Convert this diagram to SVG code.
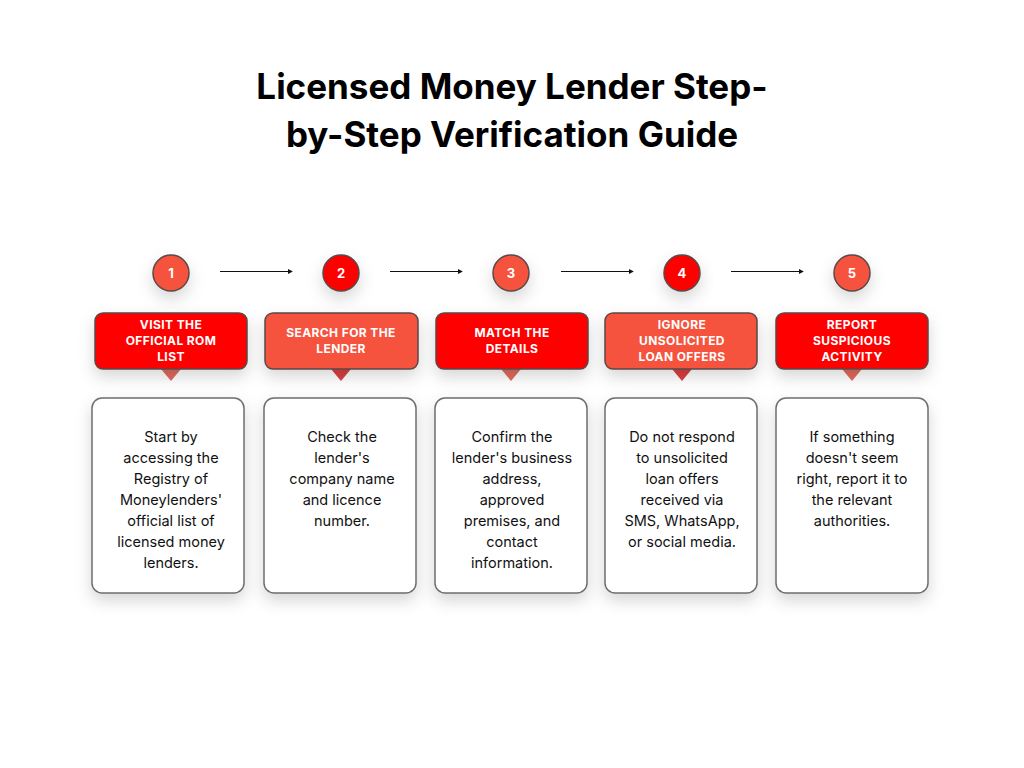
<svg xmlns="http://www.w3.org/2000/svg" width="1024" height="768" viewBox="0 0 1024 768">
<defs>
<style>
.title{font-family:Inter,"Noto Sans","Liberation Sans",sans-serif;font-weight:700;font-size:35px;fill:#000;text-anchor:middle}
.num{font-family:Inter,"Liberation Sans",sans-serif;font-weight:700;font-size:13px;fill:#fff;text-anchor:middle}
.lbl{font-family:Inter,"Liberation Sans",sans-serif;font-weight:700;font-size:12px;fill:#fff;text-anchor:middle;letter-spacing:0.4px}
.body{font-family:Inter,"Liberation Sans",sans-serif;font-size:14.5px;fill:#111;text-anchor:middle}
.circ{stroke:#5b4848;stroke-width:1.5}
.tag{stroke:#5b4848;stroke-width:1.5}
.card{fill:#fff;stroke:#6e6e6e;stroke-width:1.5}
.red{fill:#ff0000}
.coral{fill:#f5533d}
.conn{stroke:#111;stroke-width:1.2;fill:none}
</style>
<filter id="sh" x="-40%" y="-40%" width="180%" height="190%">
<feDropShadow dx="0" dy="7" stdDeviation="8" flood-color="#000" flood-opacity="0.16"/>
</filter>
<marker id="ah" viewBox="0 0 6 6" refX="5" refY="3" markerWidth="5" markerHeight="5" orient="auto" markerUnits="userSpaceOnUse">
<path d="M0,0 L6,3 L0,6 z" fill="#111"/>
</marker>
</defs>
<rect width="1024" height="768" fill="#fff"/>
<text class="title" x="512" y="99">Licensed Money Lender Step-</text>
<text class="title" x="512" y="147">by-Step Verification Guide</text>

<g id="connectors">
<line class="conn" x1="220" y1="271.5" x2="292" y2="271.5" marker-end="url(#ah)"/>
<line class="conn" x1="390" y1="271.5" x2="462" y2="271.5" marker-end="url(#ah)"/>
<line class="conn" x1="561" y1="271.5" x2="633" y2="271.5" marker-end="url(#ah)"/>
<line class="conn" x1="731" y1="271.5" x2="803" y2="271.5" marker-end="url(#ah)"/>
</g>

<g id="step1">
<circle class="circ coral" cx="171" cy="273" r="18" filter="url(#sh)"/>
<text class="num" x="171" y="277.5">1</text>
<polygon points="161,369 181,369 171,381" fill="#e06a5c"/>
<rect class="tag red" x="95" y="313" width="152" height="56" rx="8" filter="url(#sh)"/>
<text class="lbl" x="171" y="329">VISIT THE</text>
<text class="lbl" x="171" y="345">OFFICIAL ROM</text>
<text class="lbl" x="171" y="361">LIST</text>
<rect class="card" x="92" y="398" width="152" height="195" rx="10" filter="url(#sh)"/>
<text class="body" x="171" y="442">Start by</text>
<text class="body" x="171" y="463">accessing the</text>
<text class="body" x="171" y="484">Registry of</text>
<text class="body" x="171" y="505">Moneylenders'</text>
<text class="body" x="171" y="526">official list of</text>
<text class="body" x="171" y="547">licensed money</text>
<text class="body" x="171" y="568">lenders.</text>
</g>

<g id="step2">
<circle class="circ red" cx="341" cy="273" r="18" filter="url(#sh)"/>
<text class="num" x="341" y="277.5">2</text>
<polygon points="331,369 351,369 341,381" fill="#d9403f"/>
<rect class="tag coral" x="265" y="313" width="153" height="56" rx="8" filter="url(#sh)"/>
<text class="lbl" x="341" y="337">SEARCH FOR THE</text>
<text class="lbl" x="341" y="353">LENDER</text>
<rect class="card" x="264" y="398" width="152" height="195" rx="10" filter="url(#sh)"/>
<text class="body" x="342" y="442">Check the</text>
<text class="body" x="342" y="463">lender's</text>
<text class="body" x="342" y="484">company name</text>
<text class="body" x="342" y="505">and licence</text>
<text class="body" x="342" y="526">number.</text>
</g>

<g id="step3">
<circle class="circ coral" cx="511" cy="273" r="18" filter="url(#sh)"/>
<text class="num" x="511" y="277.5">3</text>
<polygon points="501,369 521,369 511,381" fill="#e06a5c"/>
<rect class="tag red" x="436" y="313" width="152" height="56" rx="8" filter="url(#sh)"/>
<text class="lbl" x="512" y="337">MATCH THE</text>
<text class="lbl" x="512" y="353">DETAILS</text>
<rect class="card" x="435" y="398" width="152" height="195" rx="10" filter="url(#sh)"/>
<text class="body" x="512" y="442">Confirm the</text>
<text class="body" x="512" y="463">lender's business</text>
<text class="body" x="512" y="484">address,</text>
<text class="body" x="512" y="505">approved</text>
<text class="body" x="512" y="526">premises, and</text>
<text class="body" x="512" y="547">contact</text>
<text class="body" x="512" y="568">information.</text>
</g>

<g id="step4">
<circle class="circ red" cx="682" cy="273" r="18" filter="url(#sh)"/>
<text class="num" x="682" y="277.5">4</text>
<polygon points="672,369 692,369 682,381" fill="#d9403f"/>
<rect class="tag coral" x="605" y="313" width="152" height="56" rx="8" filter="url(#sh)"/>
<text class="lbl" x="682" y="329">IGNORE</text>
<text class="lbl" x="682" y="345">UNSOLICITED</text>
<text class="lbl" x="682" y="361">LOAN OFFERS</text>
<rect class="card" x="605" y="398" width="152" height="195" rx="10" filter="url(#sh)"/>
<text class="body" x="682" y="442">Do not respond</text>
<text class="body" x="682" y="463">to unsolicited</text>
<text class="body" x="682" y="484">loan offers</text>
<text class="body" x="682" y="505">received via</text>
<text class="body" x="682" y="526">SMS, WhatsApp,</text>
<text class="body" x="682" y="547">or social media.</text>
</g>

<g id="step5">
<circle class="circ coral" cx="852" cy="273" r="18" filter="url(#sh)"/>
<text class="num" x="852" y="277.5">5</text>
<polygon points="842,369 862,369 852,381" fill="#e06a5c"/>
<rect class="tag red" x="776" y="313" width="152" height="56" rx="8" filter="url(#sh)"/>
<text class="lbl" x="852" y="329">REPORT</text>
<text class="lbl" x="852" y="345">SUSPICIOUS</text>
<text class="lbl" x="852" y="361">ACTIVITY</text>
<rect class="card" x="776" y="398" width="152" height="195" rx="10" filter="url(#sh)"/>
<text class="body" x="852" y="442">If something</text>
<text class="body" x="852" y="463">doesn't seem</text>
<text class="body" x="852" y="484">right, report it to</text>
<text class="body" x="852" y="505">the relevant</text>
<text class="body" x="852" y="526">authorities.</text>
</g>
</svg>
